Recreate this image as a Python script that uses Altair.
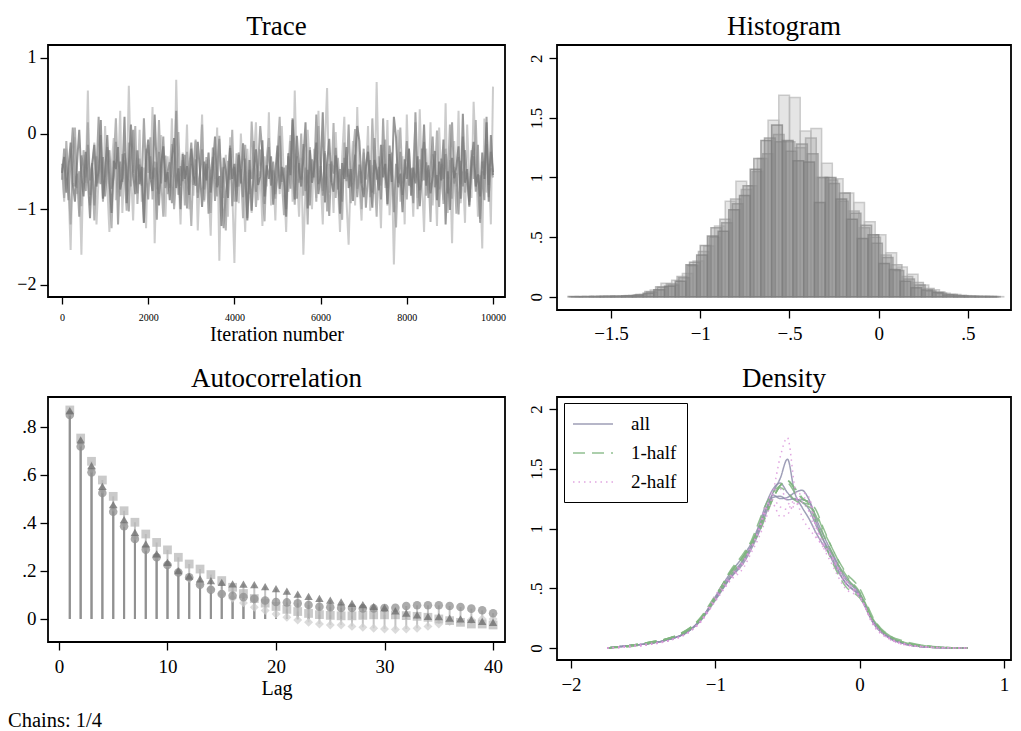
import altair as alt
import pandas as pd

FONT = "Liberation Serif"

# ---------------- Trace: 4 chains, one value read every 50 iterations ----------------
trace_step = 50
trace_c1 = [
    -.52, -.31, -.78, -.45, -.12, -.66, -.9, -.38, .05, -.57,
    -.83, -.24, -.61, -1.12, -.42, -.15, -.7, -.48, .18, -.86,
    -.55, -.02, -.63, -1.05, -.36, -.47, -.18, -.74, -.59, .22,
    -.92, -.41, .12, -.53, -.8, -.22, -.67, -.44, -1.18, -.35,
    -.08, -.58, -.76, .25, -.49, -.95, -.4, -.17, -.64, -.51,
    -.88, -.33, -.06, -.72, -.46, -1.0, -.27, -.6, -.43, -.81,
    -.2, -.55, -.69, -.11, -.5, -.97, -.37, -.62, -.25, -.78,
    -.45, -.04, -.71, -.56, -1.22, -.32, -.48, -.85, -.19, -.6,
    -.4, -.9, -.28, -.66, -.13, -.52, -1.15, -.35, -1.02, -.47,
    -.21, -.68, -.57, -.09, -.83, -.42, -.6, -.3, -.94, -.5,
    -.16, -.73, -.44, -.62, -1.1, -.26, -.55, .2, -.87, -.03,
    -.49, -.7, -.33, .15, -.99, -.22, -.65, -.46, -.12, -.8,
    -.54, .28, -.91, -.41, -.07, -.63, -.77, -.29, -.52, -1.06,
    -.39, -.6, -.18, -.72, -.47, -.89, -.31, .1, -.1, -.67,
    -.84, -.43, -.24, -.61, -.98, -.35, -.5, -.75, -.15, -.58,
    -.4, -.93, -.27, -.64, .22, -.05, -.71, -.53, -1.04, -.34,
    -.6, -.2, -.82, -.45, -.66, -.3, -.96, -.51, .12, -.69,
    -.42, -.79, -.57, -.23, -.88, -.37, -.62, -.08, -1.2, -.5,
    -1.01, -.32, -.59, -.44, -.17, -.86, .26, -.65, -.47, -.95,
    -.36, -.11, -.7, -.54, -.83, -.25, -.6, .15, -.9, -.02,
    -.55]
trace_c2 = [
    -.61, -.2, -.47, -.88, -.35, .08, -.7, -.53, -1.1, -.29,
    -.44, -.76, -.15, -.62, -.39, -.95, -.5, .22, -.67, -.31,
    -.83, -.46, -.22, -.73, -.58, -.11, -1.2, -.37, -.64, -.26,
    -.49, -1.03, -.33, .05, -.56, -.79, -.41, -.69, .2, -.52,
    -.87, -.3, -.6, -.45, -1.14, -.24, -.66, -.04, -.72, -.5,
    -.38, -.92, -.55, .3, -.81, -.43, -.63, -.28, -.99, -.47,
    -.12, -.68, -.34, -.85, -.57, -.21, -.74, -.4, -1.06, -.52,
    -.31, -.89, -.46, -.07, -.65, -1.25, -.78, -.59, -.16, -.96,
    -.44, -.71, -.25, -.54, -.84, -.33, -1.12, -.48, -.6, -.1,
    -.77, -.42, .1, -.27, -.93, -.5, -.18, -.69, -.37, -.8,
    -.56, -.03, -.64, -.45, -1.0, -.3, -.73, .18, -.21, -.86,
    -.39, -.61, -.14, -.76, -.48, -.95, -.34, -.58, .25, -.67,
    -.43, -.82, -.26, -.6, -1.09, -.37, -.53, -.19, -.74, -.47,
    -.9, -.32, -.63, .12, -.7, -.5, -.28, -.84, -.41, -.66,
    -.2, -.98, -.55, -.35, -.78, -.06, -.61, -.44, -.87, .2,
    -.58, -.72, -.16, -.49, -1.04, -.4, -.65, -.24, -.81, -.53,
    -.1, -.69, -.46, -.92, .28, -.57, -.75, -.2, -.62, -.38,
    -.85, -.48, -.04, -.71, -.55, -.97, -.33, -.6, -.27, -.79,
    -.43, .15, -.66, -.52, -1.07, -.36, -.7, -.22, -.58, -.9,
    -.45, -.3, -.77, -.15, -1.18, -.5, -.88, .22, -.68, -.24,
    -.51]
trace_c3 = [
    -.4, -.85, -.1, -.63, -1.2, -.35, .08, -.72, -.5, -.96,
    -.22, -.58, .15, -.81, -.45, -1.15, -.3, -.66, -.02, -.9,
    -.48, -.18, -.77, -1.25, -.38, .2, -.6, -.83, -.27, -.55,
    -1.02, -.12, -.7, -.42, .1, -.93, -.33, -.64, -1.18, -.2,
    -.52, -.05, -.87, -.37, -.74, .18, -.6, -1.1, -.29, -.8,
    -.46, -.14, -1.0, -.57, .02, -.69, -.35, -.95, -.24, -.62,
    -1.22, -.41, -.08, -.78, -.5, .12, -.88, -.31, -.67, -1.05,
    -.19, -.55, -.83, -.03, -.72, -.44, -1.28, -.36, -.61, .05,
    -.9, -.26, -.7, -.47, -1.12, -.15, -.58, -.8, .16, -.4,
    -.97, -.53, -.21, -.75, -1.16, -.33, -.06, -.68, -.49, -.86,
    -.25, .22, -.62, -1.08, -.42, -.77, -.1, -.56, -.94, -.3,
    -.65, .0, -.82, -.45, -1.2, -.18, -.59, -.36, -.9, .1,
    -.51, -.76, -.23, -1.03, -.4, -.64, .14, -.85, -.32, -.7,
    -1.14, -.12, -.57, -.47, -.92, -.28, .06, -.73, -.5, -1.0,
    -.37, -.61, -.16, -.84, .2, -.54, -1.1, -.3, -.69, -.43,
    -.08, -.95, -.6, -.25, -.79, -1.24, -.38, .08, -.66, -.52,
    -.87, -.2, -.71, -.45, .15, -1.0, -.34, -.63, -.11, -.82,
    -.48, -1.17, -.27, -.58, .04, -.74, -.4, -.93, -.2, -.6,
    .12, -.86, -.44, -1.06, -.31, -.67, -.04, -.78, -.52, -.97,
    -.22, -.6, .18, -.71, -1.13, -.37, -.55, -.14, -.84, -.46,
    -.58]
trace_c4 = [
    -.45, -.9, -.2, -.7, -1.54, -.33, -.05, -.8, -.5, -1.6,
    -.28, -.65, .57, -.95, -.4, -.12, -1.2, -.58, -.3, -.85,
    .1, -.7, -1.3, -.42, -.06, -.88, -.55, .3, -1.05, -.35,
    -.75, .63, -.5, -1.15, -.22, -.68, .05, -.9, -.45, -1.25,
    -.15, -.6, .35, -1.45, -.38, -.8, -.02, -.62, -1.1, -.3,
    -.72, .2, -.95, .71, -.5, -1.2, -.25, -.66, .12, -1.0,
    -.4, -.82, -.1, -1.28, -.55, .25, -.9, -.35, -.7, -1.35,
    -.18, -.6, .08, -1.68, -.45, -.85, -.28, -1.1, -.05, -.75,
    -1.71, -.4, -.92, .0, -.62, -1.3, -.2, -.78, -1.05, -.35,
    .15, -.88, -.5, -1.22, -.3, -.7, .28, -.95, -.48, -1.15,
    -.25, -.8, .1, -.6, -1.3, -.38, -.02, -.9, .57, -.55,
    -1.1, -.32, -1.6, -.7, .05, -.45, -1.0, -.2, -.85, .3,
    -.6, -1.2, -.15, .6, -.78, -.4, -1.05, .02, -.65, -1.3,
    -.3, .22, -.88, -1.47, -.5, -.1, -.95, .35, -.7, -1.15,
    -.25, -.6, .1, -1.02, -.42, -.8, .68, -.55, -1.25, -.15,
    -.72, .18, -1.08, -.38, -1.73, -.62, .05, -.9, -.3, -1.2,
    .25, -.68, -.45, -1.1, -.12, -.85, .32, -.58, -1.3, -.2,
    -.75, .15, -.95, -.4, -1.22, .08, -.6, -.88, .4, -1.05,
    -.35, -1.45, -.1, -.7, .3, -.92, -.5, -1.18, .12, -.62,
    -.85, .42, -.28, -1.1, -.55, -1.52, .2, -.78, -.4, -1.2,
    .62]

# ---------------- Histogram: density heights per chain ----------------
hist_bin_width = 0.06
hist_start_c1 = -1.74
hist_start_c2 = -1.72
hist_start_c3 = -1.70
hist_start_c4 = -1.73
hist_c1 = [0.003, 0.0, 0.003, 0.004, 0.005, 0.008, 0.012, 0.03, 0.06, 0.09,
           0.13, 0.27, 0.35, 0.51, 0.55, 0.73, 0.85, 1.07, 1.31, 1.44,
           1.31, 1.14, 1.13, 0.79, 1.0, 0.82, 0.65, 0.49, 0.52, 0.28,
           0.23, 0.13, 0.076, 0.057, 0.037, 0.015, 0.008, 0.005, 0.003, 0.003]
hist_c2 = [0.002, 0.004, 0.002, 0.006, 0.004, 0.01, 0.02, 0.04, 0.08, 0.1,
           0.16, 0.29, 0.43, 0.58, 0.62, 0.78, 0.93, 1.16, 1.33, 1.3,
           1.22, 1.28, 1.2, 1.0, 0.95, 0.87, 0.7, 0.6, 0.45, 0.33,
           0.22, 0.15, 0.1, 0.05, 0.03, 0.02, 0.01, 0.004, 0.003, 0.002]
hist_c3 = [0.003, 0.002, 0.005, 0.004, 0.008, 0.012, 0.02, 0.057, 0.115, 0.14,
           0.195, 0.3, 0.427, 0.594, 0.8, 0.968, 0.93, 1.16, 1.48, 1.69,
           1.67, 1.39, 1.41, 1.12, 0.99, 0.87, 0.79, 0.63, 0.52, 0.37,
           0.25, 0.19, 0.1, 0.06, 0.03, 0.02, 0.01, 0.006, 0.004, 0.002]
hist_c4 = [0.002, 0.003, 0.004, 0.003, 0.006, 0.01, 0.018, 0.045, 0.084, 0.11,
           0.17, 0.26, 0.38, 0.5, 0.65, 0.82, 0.9, 1.05, 1.2, 1.36,
           1.3, 1.25, 1.33, 1.0, 0.98, 0.8, 0.72, 0.58, 0.5, 0.35,
           0.27, 0.17, 0.12, 0.07, 0.04, 0.02, 0.012, 0.006, 0.003, 0.002]

# ---------------- Autocorrelation (lags 1..40) ----------------
ac_lags = list(range(1, 41))
ac_triangle = [0.868, 0.746, 0.639, 0.553, 0.476, 0.414, 0.361, 0.313, 0.271, 0.236,
               0.201, 0.178, 0.167, 0.16, 0.152, 0.146, 0.145, 0.143, 0.135, 0.126,
               0.116, 0.103, 0.094, 0.086, 0.078, 0.071, 0.065, 0.06, 0.052, 0.047,
               0.034, 0.024, 0.017, 0.011, 0.01, 0.003, 0.0, -0.002, -0.01, -0.014]
ac_circle = [0.85, 0.719, 0.611, 0.525, 0.447, 0.386, 0.333, 0.289, 0.257, 0.225,
             0.194, 0.174, 0.143, 0.122, 0.104, 0.097, 0.091, 0.084, 0.077, 0.071,
             0.069, 0.065, 0.058, 0.051, 0.049, 0.046, 0.046, 0.044, 0.044, 0.046,
             0.047, 0.054, 0.057, 0.057, 0.057, 0.054, 0.05, 0.043, 0.036, 0.024]
ac_square = [0.871, 0.754, 0.657, 0.579, 0.511, 0.451, 0.403, 0.354, 0.319, 0.288,
             0.257, 0.229, 0.208, 0.185, 0.16, 0.132, 0.106, 0.085, 0.066, 0.052,
             0.04, 0.031, 0.023, 0.018, 0.015, 0.013, 0.013, 0.015, 0.017, 0.017,
             0.017, 0.014, 0.011, 0.007, 0.0, -0.007, -0.014, -0.021, -0.021, -0.025]
ac_diamond = [0.862, 0.735, 0.627, 0.54, 0.465, 0.4, 0.345, 0.3, 0.262, 0.228,
              0.198, 0.17, 0.145, 0.125, 0.105, 0.086, 0.067, 0.049, 0.035, 0.021,
              0.007, -0.004, -0.014, -0.021, -0.025, -0.025, -0.031, -0.035, -0.039, -0.042,
              -0.044, -0.042, -0.039, -0.031, -0.021, -0.011, -0.007, -0.003, 0.0, 0.0]

# ---------------- Density: 4 chains x (all, 1st half, 2nd half) ----------------
dens_x = [-1.75, -1.6, -1.45, -1.3, -1.2, -1.1, -1.0, -0.9, -0.8, -0.75,
          -0.7, -0.65, -0.6, -0.55, -0.5, -0.45, -0.4, -0.35, -0.3, -0.25,
          -0.2, -0.1, 0.0, 0.1, 0.2, 0.3, 0.45, 0.6, 0.75]
dens_c1_all = [0, 0.02, 0.04, 0.08, 0.13, 0.24, 0.41, 0.58, 0.72, 0.83, 0.96, 1.12, 1.3, 1.42, 1.58,
               1.3, 1.18, 1.08, 0.96, 0.86, 0.77, 0.55, 0.43, 0.2, 0.09, 0.04, 0.01, 0.003, 0]
dens_c1_h1 = [0, 0.02, 0.05, 0.09, 0.14, 0.26, 0.44, 0.62, 0.78, 0.88, 1.0, 1.12, 1.25, 1.36, 1.4,
              1.34, 1.26, 1.2, 1.05, 0.9, 0.75, 0.52, 0.42, 0.22, 0.1, 0.05, 0.02, 0.005, 0]
dens_c1_h2 = [0, 0.01, 0.03, 0.07, 0.12, 0.22, 0.4, 0.56, 0.68, 0.8, 0.92, 1.08, 1.3, 1.6, 1.76,
              1.35, 1.1, 1.0, 0.92, 0.86, 0.78, 0.58, 0.44, 0.19, 0.08, 0.04, 0.01, 0.002, 0]
dens_c2_all = [0, 0.02, 0.04, 0.08, 0.13, 0.24, 0.43, 0.62, 0.78, 0.88, 1.02, 1.2, 1.33, 1.38, 1.3,
               1.24, 1.24, 1.22, 1.05, 0.9, 0.76, 0.55, 0.44, 0.21, 0.09, 0.04, 0.01, 0.002, 0]
dens_c2_h1 = [0, 0.01, 0.04, 0.09, 0.15, 0.25, 0.42, 0.64, 0.8, 0.9, 1.05, 1.2, 1.3, 1.36, 1.38,
              1.3, 1.22, 1.2, 1.1, 0.95, 0.82, 0.6, 0.46, 0.22, 0.1, 0.05, 0.01, 0.003, 0]
dens_c2_h2 = [0, 0.02, 0.04, 0.07, 0.12, 0.23, 0.44, 0.6, 0.74, 0.85, 0.98, 1.15, 1.32, 1.33, 1.22,
              1.18, 1.26, 1.22, 1.0, 0.84, 0.72, 0.5, 0.42, 0.2, 0.08, 0.03, 0.01, 0.002, 0]
dens_c3_all = [0, 0.02, 0.04, 0.08, 0.13, 0.23, 0.4, 0.58, 0.74, 0.85, 0.98, 1.15, 1.28, 1.25, 1.26,
               1.3, 1.32, 1.24, 1.08, 0.94, 0.82, 0.6, 0.46, 0.22, 0.1, 0.04, 0.01, 0.003, 0]
dens_c3_h1 = [0, 0.02, 0.05, 0.09, 0.14, 0.24, 0.41, 0.6, 0.76, 0.86, 0.96, 1.1, 1.25, 1.36, 1.4,
              1.33, 1.25, 1.22, 1.15, 1.0, 0.86, 0.64, 0.5, 0.24, 0.11, 0.06, 0.02, 0.004, 0]
dens_c3_h2 = [0, 0.01, 0.03, 0.07, 0.12, 0.22, 0.39, 0.56, 0.72, 0.84, 0.98, 1.18, 1.2, 1.1, 1.12,
              1.22, 1.3, 1.26, 1.02, 0.88, 0.78, 0.56, 0.43, 0.2, 0.09, 0.04, 0.01, 0.002, 0]
dens_c4_all = [0, 0.02, 0.04, 0.08, 0.13, 0.24, 0.42, 0.6, 0.75, 0.86, 1.0, 1.16, 1.26, 1.27, 1.24,
               1.25, 1.22, 1.16, 1.02, 0.9, 0.8, 0.58, 0.45, 0.2, 0.09, 0.04, 0.01, 0.002, 0]
dens_c4_h1 = [0, 0.02, 0.05, 0.09, 0.15, 0.25, 0.43, 0.63, 0.78, 0.88, 1.0, 1.14, 1.26, 1.34, 1.3,
              1.24, 1.2, 1.18, 1.12, 0.98, 0.86, 0.62, 0.47, 0.23, 0.11, 0.05, 0.02, 0.004, 0]
dens_c4_h2 = [0, 0.01, 0.03, 0.07, 0.12, 0.23, 0.41, 0.58, 0.72, 0.84, 0.99, 1.16, 1.24, 1.18, 1.16,
              1.24, 1.22, 1.14, 0.94, 0.84, 0.76, 0.54, 0.43, 0.18, 0.08, 0.03, 0.01, 0.002, 0]

# ---------------- Build tables ----------------
rows = []
for name, vals in [("c1", trace_c1), ("c2", trace_c2), ("c3", trace_c3), ("c4", trace_c4)]:
    for i, v in enumerate(vals):
        rows.append({"chain": name, "iter": i * trace_step, "value": v})
trace_df = pd.DataFrame(rows)

rows = []
for name, start, vals in [("c3", hist_start_c3, hist_c3), ("c4", hist_start_c4, hist_c4),
                          ("c2", hist_start_c2, hist_c2), ("c1", hist_start_c1, hist_c1)]:
    for k, h in enumerate(vals):
        x0 = start + k * hist_bin_width
        rows.append({"chain": name, "x0": x0, "x1": x0 + hist_bin_width, "h": h})
hist_df = pd.DataFrame(rows)

rows = []
for name, vals in [("diamond", ac_diamond), ("square", ac_square),
                   ("circle", ac_circle), ("triangle", ac_triangle)]:
    for lag, v in zip(ac_lags, vals):
        rows.append({"chain": name, "lag": lag, "ac": v})
ac_df = pd.DataFrame(rows)

rows = []
dens_sets = [
    ("c1", "all", dens_c1_all), ("c2", "all", dens_c2_all), ("c3", "all", dens_c3_all), ("c4", "all", dens_c4_all),
    ("c1", "1-half", dens_c1_h1), ("c2", "1-half", dens_c2_h1), ("c3", "1-half", dens_c3_h1), ("c4", "1-half", dens_c4_h1),
    ("c1", "2-half", dens_c1_h2), ("c2", "2-half", dens_c2_h2), ("c3", "2-half", dens_c3_h2), ("c4", "2-half", dens_c4_h2),
]
for ch, part, vals in dens_sets:
    for x, y in zip(dens_x, vals):
        rows.append({"series": ch + "-" + part, "part": part, "x": x, "y": y})
dens_df = pd.DataFrame(rows)

# ---------------- Common styling ----------------
LBL = "replace(format(datum.value, '.4~g'), '0.', '.')"


def panel_title(text):
    return alt.TitleParams(text=text, font=FONT, fontSize=27, fontWeight="normal", color="black",
                           frame="group", anchor="middle", baseline="alphabetic", offset=-17)


def rot_y_axis(values):
    return alt.Axis(values=values, labelExpr=LBL, labelAngle=270, labelAlign="center",
                    labelBaseline="alphabetic", labelFontSize=17, labelPadding=8, title=None)


# ---------------- Trace ----------------
tx = alt.X("iter:Q", scale=alt.Scale(domain=[-325, 10278], nice=False, zero=False),
           axis=alt.Axis(values=[0, 2000, 4000, 6000, 8000, 10000], format="d", labelFontSize=10,
                         tickSize=7, labelPadding=8, title="Iteration number", titleFontSize=20,
                         titleFont=FONT, titleFontWeight="normal", titleY=43,
                         titleBaseline="alphabetic"))
ty = alt.Y("value:Q", scale=alt.Scale(domain=[-2.16, 1.17], nice=False, zero=False),
           axis=alt.Axis(values=[-2, -1, 0, 1], labelExpr=LBL, labelFontSize=18, labelPadding=4,
                         title=None))
trace_layers = []
for name, col, op in [("c4", "#c6c6c6", 0.9), ("c3", "#a3a3a3", 0.8),
                      ("c2", "#8a8a8a", 0.75), ("c1", "#747474", 0.75)]:
    trace_layers.append(
        alt.Chart(trace_df).transform_filter(alt.datum.chain == name)
        .mark_line(color=col, opacity=op, strokeWidth=2.0).encode(x=tx, y=ty))
trace = alt.layer(*trace_layers).properties(width=457, height=252, title=panel_title("Trace"))

# ---------------- Histogram ----------------
hist_dom = ["c1", "c2", "c3", "c4"]
hist_cols = ["#7e7e7e", "#8e8e8e", "#b8b8b8", "#a2a2a2"]
hist = alt.Chart(hist_df).mark_rect(strokeWidth=1.5, fillOpacity=0.36, strokeOpacity=0.7).encode(
    x=alt.X("x0:Q", scale=alt.Scale(domain=[-1.8025, 0.741], nice=False, zero=False),
            axis=alt.Axis(values=[-1.5, -1, -0.5, 0, 0.5], labelExpr=LBL, labelFontSize=19,
                          labelPadding=6, title=None)),
    x2="x1:Q",
    y=alt.Y("h:Q", scale=alt.Scale(domain=[-0.11, 2.11], nice=False, zero=False),
            axis=rot_y_axis([0, 0.5, 1, 1.5, 2])),
    y2=alt.datum(0),
    fill=alt.Fill("chain:N", scale=alt.Scale(domain=hist_dom, range=hist_cols), legend=None),
    stroke=alt.Stroke("chain:N", scale=alt.Scale(domain=hist_dom, range=hist_cols), legend=None),
).properties(width=454, height=265, title=panel_title("Histogram"))

# ---------------- Autocorrelation ----------------
ac_dom = ["diamond", "square", "circle", "triangle"]
ax_ = alt.X("lag:Q", scale=alt.Scale(domain=[-1.01, 41.1], nice=False, zero=False),
            axis=alt.Axis(values=[0, 10, 20, 30, 40], format="d", labelFontSize=19, labelPadding=7,
                          title="Lag", titleFontSize=20, titleFont=FONT, titleFontWeight="normal",
                          titleY=52, titleBaseline="alphabetic"))
ay_ = alt.Y("ac:Q", scale=alt.Scale(domain=[-0.096, 0.925], nice=False, zero=False),
            axis=alt.Axis(values=[0, 0.2, 0.4, 0.6, 0.8], labelExpr=LBL, labelFontSize=19,
                          labelPadding=4, title=None))
ac_spikes = alt.Chart(ac_df).mark_rule(color="#8a8a8a", strokeWidth=2, opacity=0.5).encode(
    x=ax_, y=ay_, y2=alt.datum(0), detail="chain:N")
ac_pts = alt.Chart(ac_df).mark_point(filled=True, opacity=0.75, strokeWidth=1).encode(
    x=ax_, y=ay_,
    shape=alt.Shape("chain:N", scale=alt.Scale(domain=ac_dom,
                    range=["diamond", "square", "circle", "triangle-up"]), legend=None),
    color=alt.Color("chain:N", scale=alt.Scale(domain=ac_dom,
                    range=["#cfcfcf", "#b8b8b8", "#8f8f8f", "#6c6c6c"]), legend=None),
    size=alt.Size("chain:N", scale=alt.Scale(domain=ac_dom, range=[80, 70, 60, 70]), legend=None),
)
ac = alt.layer(ac_spikes, ac_pts).properties(width=457, height=245, title=panel_title("Autocorrelation"))

# ---------------- Density ----------------
parts = ["all", "1-half", "2-half"]
leg = alt.Legend(title=None, orient="none", legendX=7, legendY=6, symbolType="M-2,0H2",
                 symbolSize=400, symbolStrokeWidth=1.5, symbolOffset=8, labelFont=FONT,
                 labelFontSize=19, labelColor="black", labelOffset=27, padding=10, rowPadding=8,
                 strokeColor="black", fillColor="white", labelLimit=200)
dens = alt.Chart(dens_df).mark_line(interpolate="monotone", strokeWidth=1.5, opacity=0.85).encode(
    x=alt.X("x:Q", scale=alt.Scale(domain=[-2.097, 1.049], nice=False, zero=False),
            axis=alt.Axis(values=[-2, -1, 0, 1], labelExpr=LBL, labelFontSize=19, labelPadding=7,
                          title=None)),
    y=alt.Y("y:Q", scale=alt.Scale(domain=[-0.1, 2.1], nice=False, zero=False),
            axis=rot_y_axis([0, 0.5, 1, 1.5, 2])),
    color=alt.Color("part:N", scale=alt.Scale(domain=parts, range=["#8e8eab", "#7fb57f", "#dc98dc"]),
                    legend=leg),
    strokeDash=alt.StrokeDash("part:N", scale=alt.Scale(domain=parts, range=[[1, 0], [12, 7], [1.5, 4]]),
                              legend=leg),
    detail="series:N",
).properties(width=454, height=263, title=panel_title("Density"))

chart = alt.concat(
    trace, hist, ac, dens, columns=2, spacing={"row": 87, "column": 52}, bounds="flush",
    title=alt.TitleParams(text="Chains: 1/4", orient="bottom", anchor="start", frame="group",
                          dx=-40, offset=28, baseline="alphabetic", fontSize=20.5, font=FONT,
                          fontWeight="normal", color="black"),
).resolve_scale(
    color="independent", fill="independent", stroke="independent", strokeDash="independent",
    shape="independent", size="independent"
).resolve_legend(
    color="independent", strokeDash="independent"
).properties(
    padding={"left": 0, "top": 4, "right": 0, "bottom": 4}
).configure(background="white", font=FONT).configure_view(
    stroke="black", strokeWidth=1.8
).configure_axis(
    grid=False, domain=False, tickColor="black", tickSize=8, tickWidth=1.3, labelColor="black",
    titleColor="black", labelFont=FONT, titleFont=FONT, labelFlush=False, labelOverlap=False
).configure_legend(
    labelFont=FONT, titleFont=FONT, labelColor="black"
)

chart.save("out.html", embed_options={"renderer": "svg", "actions": False})
